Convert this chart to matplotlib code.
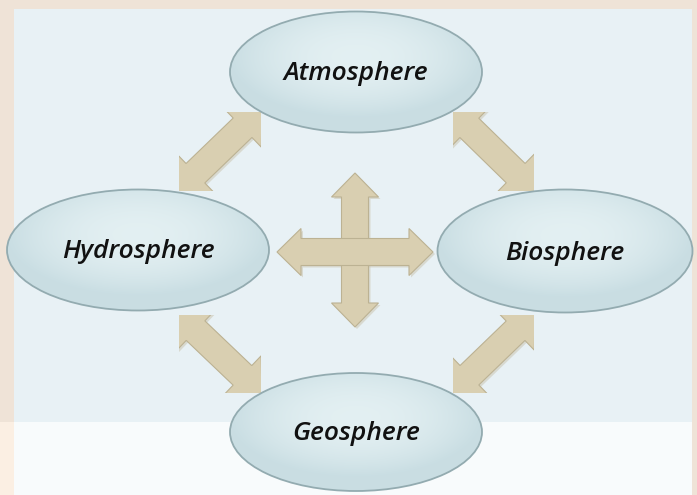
import numpy as np
import matplotlib
matplotlib.use("Agg")
import matplotlib.pyplot as plt
from matplotlib.patches import Ellipse, Polygon, Rectangle

# nodes of the diagram
labels = ["Atmosphere", "Hydrosphere", "Biosphere", "Geosphere"]
centers = [(356, 72), (138, 250), (565, 251), (356, 432)]
sizes = [(252, 121), (262, 121), (255, 123), (252, 118)]

# diagonal double arrows, each spanning a box (x0, x1, y0, y1)
diag_boxes = [
    (179, 259, 112, 189),
    (453, 532, 112, 189),
    (179, 259, 315, 391),
    (453, 532, 315, 391),
]
# direction of each diagonal: +1 = goes down-right, -1 = goes up-right
diag_dirs = [-1, 1, 1, -1]

# central cross: (start, end)
cross = [((355, 173), (355, 327)), ((277, 252), (433, 252))]

arrow_fc = "#d9cfb1"
arrow_ec = "#bcb293"
bg = "#efe3d7"
panel = "#e8f1f5"


def double_arrow(p0, p1, w, hw, hl):
    p0 = np.array(p0, float)
    p1 = np.array(p1, float)
    d = p1 - p0
    L = np.hypot(*d)
    u = d / L
    n = np.array([-u[1], u[0]])
    pts_local = [
        (0, 0), (hl, hw / 2), (hl, w / 2), (L - hl, w / 2), (L - hl, hw / 2),
        (L, 0), (L - hl, -hw / 2), (L - hl, -w / 2), (hl, -w / 2), (hl, -hw / 2),
    ]
    return [p0 + a * u + b * n for a, b in pts_local]


def draw_arrow(ax, pts, clip=None):
    shadow = [(x + 2, y + 2) for x, y in pts]
    s = ax.add_patch(Polygon(shadow, closed=True, facecolor="#c9c3ad", edgecolor="none",
                             alpha=0.5, zorder=1))
    a = ax.add_patch(Polygon(pts, closed=True, facecolor=arrow_fc, edgecolor=arrow_ec,
                             linewidth=0.8, zorder=2))
    if clip is not None:
        x0, x1, y0, y1 = clip
        for p in (s, a):
            box = Rectangle((x0, y0), x1 - x0 + 2, y1 - y0 + 2, transform=ax.transData)
            p.set_clip_path(box)


fig = plt.figure(figsize=(6.97, 4.95), dpi=100)
ax = fig.add_axes([0, 0, 1, 1])
ax.set_xlim(0, 697)
ax.set_ylim(495, 0)
ax.axis("off")
fig.patch.set_facecolor(bg)

# background panel
ax.add_patch(Rectangle((14, 9), 678, 413, facecolor=panel, edgecolor="none", zorder=0))
ax.add_patch(Rectangle((0, 422), 14, 73, facecolor="#fbefe3", edgecolor="none", zorder=0))
ax.add_patch(Rectangle((14, 422), 678, 73, facecolor="#f8fbfc", edgecolor="none", zorder=0))

# diagonal arrows: heads with 45 degree sides, tips slightly cut by the box
for (x0, x1, y0, y1), sgn in zip(diag_boxes, diag_dirs):
    ext = 3
    if sgn > 0:
        p0, p1 = (x0 - ext, y0 - ext), (x1 + ext, y1 + ext)
    else:
        p0, p1 = (x0 - ext, y1 + ext), (x1 + ext, y0 - ext)
    draw_arrow(ax, double_arrow(p0, p1, 27, 54, 27), clip=(x0, x1, y0, y1))

# central cross
for p0, p1 in cross:
    draw_arrow(ax, double_arrow(p0, p1, 27, 47, 24))

# ellipses with a soft radial gradient
yy, xx = np.mgrid[-1:1:200j, -1:1:200j]
r = np.clip(np.sqrt(xx ** 2 + (yy + 0.25) ** 2), 0, 1)
c_in = np.array([0.89, 0.94, 0.95])
c_out = np.array([0.79, 0.87, 0.89])
grad = c_in[None, None, :] * (1 - r[..., None] ** 2) + c_out[None, None, :] * r[..., None] ** 2

for name, (cx, cy), (w, h) in zip(labels, centers, sizes):
    e = Ellipse((cx, cy), w, h, facecolor="none", edgecolor="#93abb0", linewidth=1.3, zorder=4)
    ax.add_patch(e)
    im = ax.imshow(grad, extent=(cx - w / 2, cx + w / 2, cy + h / 2, cy - h / 2),
                   zorder=3, interpolation="bilinear")
    im.set_clip_path(Ellipse((cx, cy), w, h, transform=ax.transData))
    ax.text(cx, cy + 2, name, ha="center", va="center", fontsize=19, style="italic",
            weight="semibold", family="Open Sans", color="#111111", zorder=5)

ax.set_xlim(0, 697)
ax.set_ylim(495, 0)
fig.savefig("out.png", dpi=100, facecolor=bg)
